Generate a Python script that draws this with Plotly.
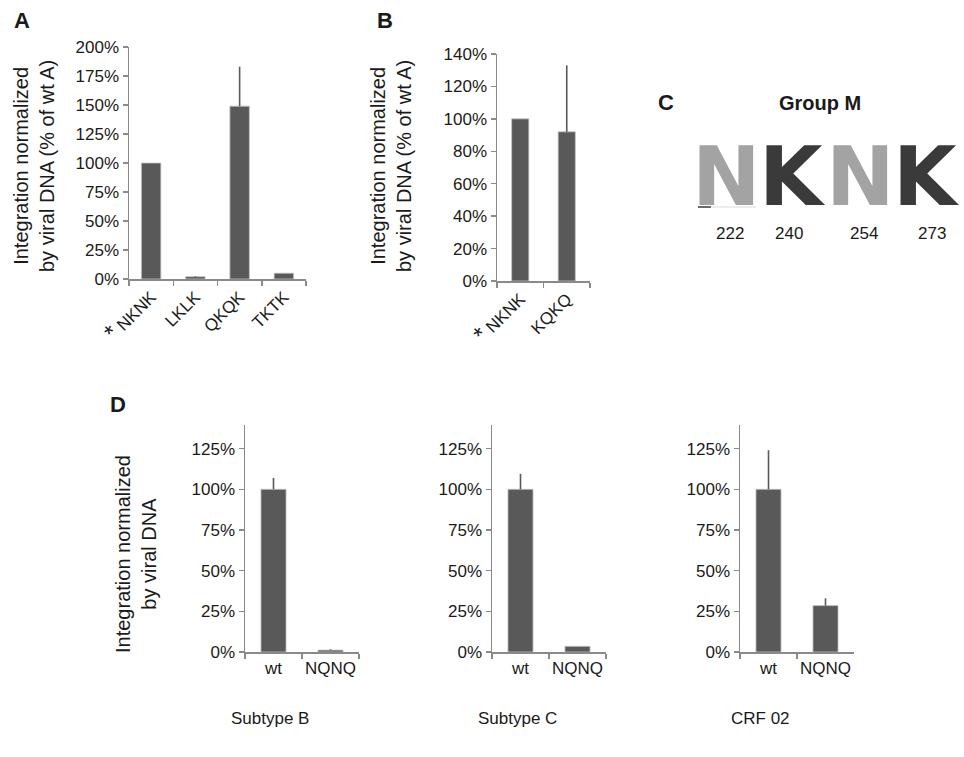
import plotly.graph_objects as go

W, H = 964, 757

# ---------------- data ----------------
cats_A = ["<span style='font-size:24px'>*</span> NKNK", "LKLK", "QKQK", "TKTK"]
vals_A = [100, 2, 149, 5]
err_A = [0, 0.6, 34, 0]

cats_B = ["<span style='font-size:24px'>*</span> NKNK", "KQKQ"]
vals_B = [100, 92]
err_B = [0, 41]

cats_D = ["wt", "NQNQ"]
vals_D1 = [100, 1.2]
err_D1 = [7, 0.5]
vals_D2 = [100, 3.5]
err_D2 = [9.5, 0]
vals_D3 = [100, 28.5]
err_D3 = [24, 4.5]

logo_letters = ["N", "K", "N", "K"]
logo_positions = ["222", "240", "254", "273"]
subtype_labels = ["Subtype B", "Subtype C", "CRF 02"]

# ---------------- style ----------------
BAR = "#595959"
AX = "#8a8a8a"
FONT = "Liberation Sans, Arial, sans-serif"
TXT = "#1a1a1a"


def px_x(p):
    return p / W


def px_y(p):
    return 1 - p / H


fig = go.Figure()


def add_bars(cats, vals, errs, xa, ya, width):
    fig.add_trace(go.Bar(
        x=cats, y=vals, xaxis=xa, yaxis=ya, width=width,
        marker=dict(color=BAR, line=dict(color="#c4c4c4", width=0.8)),
        error_y=dict(type="data", symmetric=False, array=errs,
                     arrayminus=[0] * len(errs), width=0,
                     thickness=1.6, color=BAR),
        showlegend=False, hoverinfo="skip"))


add_bars(cats_A, vals_A, err_A, "x", "y", 0.44)
add_bars(cats_B, vals_B, err_B, "x2", "y2", 0.37)
add_bars(cats_D, vals_D1, err_D1, "x3", "y3", 0.44)
add_bars(cats_D, vals_D2, err_D2, "x4", "y4", 0.44)
add_bars(cats_D, vals_D3, err_D3, "x5", "y5", 0.44)


def xax(dom, n, anchor, angle=0):
    return dict(domain=dom, anchor=anchor, type="category",
                range=[-0.5, n - 0.5], showline=True, linecolor=AX,
                linewidth=1.5, ticks="outside", tickson="boundaries",
                ticklen=5, tickcolor=AX, tickwidth=1.5, showgrid=False,
                tickangle=angle, tickfont=dict(size=17, color=TXT, family=FONT),
                automargin=False, fixedrange=True)


def yax(dom, rng, dtick, anchor):
    return dict(domain=dom, anchor=anchor, range=rng, dtick=dtick,
                tick0=0, ticksuffix="%", showline=True, linecolor=AX,
                linewidth=1.5, ticks="outside", ticklen=5, tickcolor=AX,
                tickwidth=1.5, showgrid=False, zeroline=False,
                tickfont=dict(size=17, color=TXT, family=FONT),
                automargin=False, fixedrange=True)


yD = [px_y(652), px_y(425)]
fig.update_layout(
    template="none",
    width=W, height=H, autosize=False,
    margin=dict(l=0, r=0, t=0, b=0, pad=0),
    paper_bgcolor="white", plot_bgcolor="white",
    bargap=0,
    font=dict(family=FONT, color=TXT),
    xaxis=xax([px_x(129), px_x(306)], 4, "y", -45),
    yaxis=yax([px_y(279), px_y(47)], [0, 200], 25, "x"),
    xaxis2=xax([px_x(497), px_x(590)], 2, "y2", -45),
    yaxis2=yax([px_y(281), px_y(54)], [0, 140], 20, "x2"),
    xaxis3=xax([px_x(245), px_x(359)], 2, "y3"),
    yaxis3=yax(yD, [0, 139.5], 25, "x3"),
    xaxis4=xax([px_x(492), px_x(606)], 2, "y4"),
    yaxis4=yax(yD, [0, 139.5], 25, "x4"),
    xaxis5=xax([px_x(740), px_x(854)], 2, "y5"),
    yaxis5=yax(yD, [0, 139.5], 25, "x5"),
)

ann = []


def text(x, y, s, size=16, bold=False, angle=0, color=TXT, family=FONT,
         xanchor="center", yanchor="middle"):
    ann.append(dict(x=px_x(x), y=px_y(y), xref="paper", yref="paper",
                    text=f"<b>{s}</b>" if bold else s, showarrow=False,
                    textangle=angle, xanchor=xanchor, yanchor=yanchor,
                    font=dict(size=size, color=color, family=family)))


# panel letters
text(22, 20, "A", 22, True)
text(385, 20, "B", 22, True)
text(666, 103, "C", 22, True)
text(118, 405, "D", 22, True)

# y titles
ytitle = "Integration normalized<br>by viral DNA (% of wt A)"
text(34, 166, ytitle, 20, angle=-90)
text(391, 166, ytitle, 20, angle=-90)
text(136, 554, "Integration normalized<br>by viral DNA", 20, angle=-90)

# panel C logo
text(820, 103, "Group M", 20, True)
logo_x = [726, 792, 860, 926]
logo_col = ["#a3a3a3", "#3a3a3a", "#a3a3a3", "#3a3a3a"]
for lx, letter, col in zip(logo_x, logo_letters, logo_col):
    text(lx, 176, letter, 82, True, color=col, family="DejaVu Sans")
num_x = [730, 789, 864, 932]
for nx, lab in zip(num_x, logo_positions):
    text(nx, 233, lab, 17)

# subtype labels
for sx, lab in zip([270, 517, 760], subtype_labels):
    text(sx, 718, lab, 17)

# thin residual stroke under the first logo letter
shapes = [
    dict(type="line", xref="paper", yref="paper", x0=px_x(698), x1=px_x(711),
         y0=px_y(207), y1=px_y(207), line=dict(color="#3a3a3a", width=1.5)),
    dict(type="line", xref="paper", yref="paper", x0=px_x(711), x1=px_x(756),
         y0=px_y(207), y1=px_y(207), line=dict(color="#dadada", width=1.2)),
]

fig.update_layout(annotations=ann, shapes=shapes)
fig.write_html("out.html",
               config={"displayModeBar": False, "staticPlot": True},
               post_script="document.body.style.margin='0px';")
